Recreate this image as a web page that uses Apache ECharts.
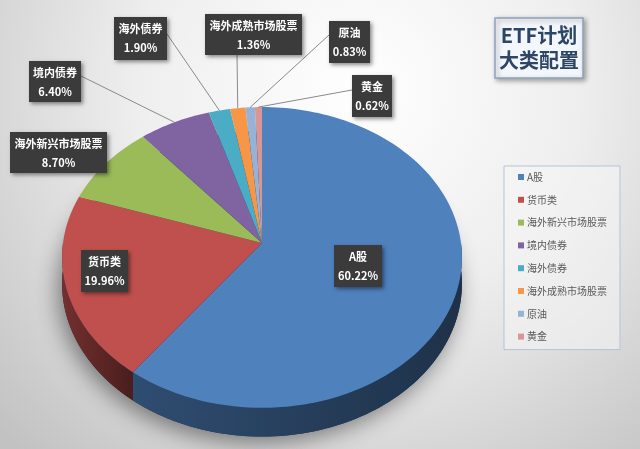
<!DOCTYPE html>
<html lang="zh">
<head>
  <meta charset="UTF-8">
  <title>ETF计划 大类配置</title>
  <style>
    html, body { margin: 0; padding: 0; }
    #main { width: 640px; height: 449px; }
  </style>
</head>
<body>
  <div id="main"></div>
  <script src="https://cdn.jsdelivr.net/npm/echarts@6/dist/echarts.min.js"></script>
  <script>
    var categories = ['A股', '货币类', '海外新兴市场股票', '境内债券', '海外债券', '海外成熟市场股票', '原油', '黄金']
    var shares = [60.22, 19.96, 8.70, 6.40, 1.90, 1.36, 0.83, 0.62]
    var colors = ['#4f81bd', '#c0504d', '#9bbb59', '#8064a2', '#4bacc6', '#f79646', '#95b3d7', '#d99694']

    // label boxes [left, top, width, height] and leader start points
    var labelBox = {
      'A股': [334, 245, 48, 42],
      '货币类': [81, 250, 47, 42],
      '海外新兴市场股票': [10, 132, 97, 41],
      '境内债券': [29, 61, 52, 41],
      '海外债券': [114, 17, 53, 43],
      '海外成熟市场股票': [205, 14, 97, 41],
      '原油': [329, 21, 41, 42],
      '黄金': [352, 75, 40, 42]
    }
    var leaderFrom = {
      '境内债券': [81, 76],
      '海外债券': [167, 34],
      '海外成熟市场股票': [237, 55],
      '原油': [329, 35],
      '黄金': [352, 90]
    }

    // tilted pie geometry (perspective)
    var CX = 262, CY = 243, RX = 199, RY = 149, P = 0.096, DEPTH = 26
    var FONT = '"Noto Sans CJK SC", "Noto Sans", sans-serif'

    var total = shares.reduce(function (a, b) { return a + b }, 0)
    var startAng = []
    var acc = 0
    shares.forEach(function (v) { startAng.push(acc / total * 360); acc += v })

    function proj(deg, dz) {
      var t = deg * Math.PI / 180
      var x = Math.sin(t), y = -Math.cos(t)
      var w = 1 - P * y
      return [CX + RX * x / w, CY + (RY * y + (dz || 0)) / w]
    }
    function arc(a, b, dz) {
      var n = Math.max(2, Math.ceil((b - a) / 1.5))
      var pts = []
      for (var k = 0; k <= n; k++) pts.push(proj(a + (b - a) * k / n, dz))
      return pts
    }
    function darken(hex, f) {
      var r = parseInt(hex.substr(1, 2), 16), g = parseInt(hex.substr(3, 2), 16), b = parseInt(hex.substr(5, 2), 16)
      return 'rgb(' + Math.round(r * f) + ',' + Math.round(g * f) + ',' + Math.round(b * f) + ')'
    }

    function makeRender(i) {
      return function (params, api) {
        var a = startAng[i]
        var b = a + api.value(0) / total * 360
        var children = []
        if (i === 0) {
          // shadow under the whole pie
          children.push({
            type: 'polygon',
            shape: { points: arc(0, 360, DEPTH) },
            style: { fill: '#1d3454', shadowBlur: 22, shadowColor: 'rgba(0,0,0,0.45)', shadowOffsetX: -4, shadowOffsetY: 6 }
          })
        }
        var wa = Math.max(a, 90), wb = Math.min(b, 270)
        if (wb > wa) {
          var top = arc(wa, wb, 0)
          var bot = arc(wa, wb, DEPTH).reverse()
          var x0 = Math.min.apply(null, top.map(function (p) { return p[0] }))
          var x1 = Math.max.apply(null, top.map(function (p) { return p[0] }))
          children.push({
            type: 'polygon',
            shape: { points: top.concat(bot) },
            style: {
              fill: new echarts.graphic.LinearGradient(x0, 0, x1, 0, [
                { offset: 0, color: darken(colors[i], 0.6) },
                { offset: 1, color: darken(colors[i], 0.38) }
              ], true)
            }
          })
        }
        children.push({
          type: 'polygon',
          shape: { points: [[CX, CY]].concat(arc(a, b, 0)) },
          style: { fill: colors[i] }
        })

        var name = categories[i]
        var box = labelBox[name]
        if (leaderFrom[name]) {
          children.push({
            type: 'polyline',
            z2: 90,
            shape: { points: [leaderFrom[name], proj((a + b) / 2, 0)] },
            style: { stroke: '#8a8a8a', lineWidth: 1, fill: null }
          })
        }
        children.push({
          type: 'rect',
          z2: 100,
          shape: { x: box[0], y: box[1], width: box[2], height: box[3] },
          style: { fill: '#3b3b3b', shadowBlur: 4, shadowColor: 'rgba(0,0,0,0.45)', shadowOffsetX: 2, shadowOffsetY: 2 }
        })
        children.push({
          type: 'text',
          z2: 101,
          style: {
            text: name, x: box[0] + box[2] / 2, y: box[1] + 12,
            fill: '#ffffff', font: 'bold 11px ' + FONT, align: 'center', verticalAlign: 'middle'
          }
        })
        children.push({
          type: 'text',
          z2: 101,
          style: {
            text: api.value(0).toFixed(2) + '%', x: box[0] + box[2] / 2, y: box[1] + 31,
            fill: '#ffffff', font: 'bold 11px ' + FONT, align: 'center', verticalAlign: 'middle'
          }
        })
        return { type: 'group', children: children }
      }
    }

    var myChart = echarts.init(document.getElementById('main'))

    var series = categories.map(function (name, i) {
      return {
        type: 'custom',
        name: name,
        coordinateSystem: 'none',
        color: colors[i],
        silent: true,
        renderItem: makeRender(i),
        data: [[shares[i]]]
      }
    })

    var options = {
      animation: false,
      backgroundColor: new echarts.graphic.RadialGradient(0.56, 0.2, 1.1, [
        { offset: 0, color: '#ffffff' },
        { offset: 0.45, color: '#eeeeee' },
        { offset: 1, color: '#c2c2c2' }
      ]),
      legend: {
        orient: 'vertical',
        left: 504,
        top: 166,
        padding: [4, 13, 6, 14],
        itemGap: 8.8,
        itemWidth: 6,
        itemHeight: 6,
        icon: 'rect',
        backgroundColor: 'rgba(246,246,246,0.55)',
        borderColor: '#b3c3d8',
        borderWidth: 1,
        selectedMode: false,
        textStyle: { fontSize: 10, lineHeight: 14, color: '#595959', fontFamily: FONT, padding: [0, 0, 0, -2] },
        data: categories
      },
      graphic: [
        {
          type: 'group',
          children: [
            {
              type: 'rect',
              shape: { x: 495, y: 18, width: 88, height: 60 },
              style: { fill: '#f3f6fa', stroke: '#8fa3bc', lineWidth: 1.5, shadowBlur: 5, shadowColor: 'rgba(0,0,0,0.35)', shadowOffsetX: 2, shadowOffsetY: 2 }
            },
            {
              type: 'text',
              style: { text: 'ETF计划', x: 539, y: 35, align: 'center', verticalAlign: 'middle', fill: '#2d4665', font: 'bold 20px ' + FONT }
            },
            {
              type: 'text',
              style: { text: '大类配置', x: 539, y: 60, align: 'center', verticalAlign: 'middle', fill: '#2d4665', font: 'bold 20px ' + FONT }
            }
          ]
        }
      ],
      series: series
    }
    myChart.setOption(options)
  </script>
</body>
</html>
